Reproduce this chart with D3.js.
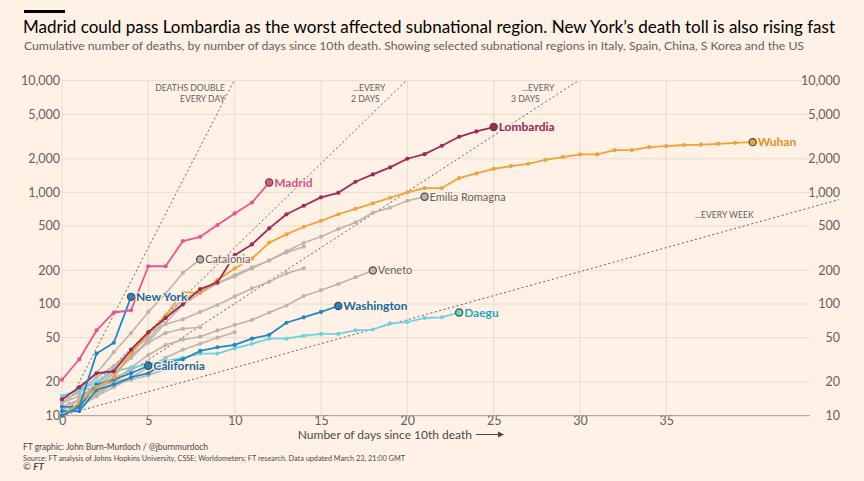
<!DOCTYPE html>
<html><head><meta charset="utf-8">
<script src="https://cdn.jsdelivr.net/npm/d3@7"></script>
<style>
html,body{margin:0;padding:0;background:#fff1e5;}
svg{display:block;font-family:Lato,"Noto Sans",sans-serif;}
</style></head>
<body><svg id="c" width="864" height="481"></svg>
<script>
// ---- data (cumulative deaths, index = days since 10th death) ----
const lombardia = [14,18,24,25,39,56,75,100,136,156,274,342,476,636,759,902,991,1245,1449,1674,2000,2200,2614,3147,3516,3846];
const wuhan = [10,13,18,22,36,54,79,128,126,164,208,255,355,420,492,556,637,713,796,895,1000,1093,1093,1343,1479,1626,1718,1803,1958,2072,2188,2188,2393,2393,2545,2600,2655,2672,2723,2780,2817];
const madrid = [21,32,58,84,88,218,218,366,400,509,648,810,1224];
const newYork = [10,12,36,45,116];
const california = [12,12,19,21,24,28];
const washington = [11,11,17,19,22,24,30,32,38,41,43,49,53,68,76,85,96];
const daegu = [15,17,20,25,27,29,31,33,36,36,40,44,49,49,52,54,54,58,59,67,69,75,76,84];
const catalonia = [13,17,24,37,55,85,124,190,251];
const emiliaRomagna = [10,13,18,24,33,48,75,112,128,153,182,213,245,297,353,400,470,538,657,730,841,913];
const veneto = [10,12,15,20,27,35,43,48,51,58,65,72,84,97,118,133,151,174,200];
const greyA = [11,14,18,24,33,46,68,98,125,153,176,209,246,290,326];
const greyB = [11,14,19,27,38,55,66,73,85,98,117,138,158,188,209];
const greyC = [10,12,15,18,22,27,33,39,44,50,56];
const greyD = [11,14,19,26,35,45,55,60,62];
const greyE = [12,14,17,21,26,30];
const greyF = [13,15,18,22,25];
const greyG = [10,13,16,19,21,23,26,28];
const greyH = [15,17,18,20,22];
const greyI = [14,16,22,28,38,50];

const yTicks = [10,20,50,100,200,500,1000,2000,5000,10000];
const xTicks = [0,5,10,15,20,25,30,35];
const doublingDays = [1,2,3,7];

const greySeries = [
  {name:"Catalonia", values:catalonia, label:true},
  {name:"Emilia Romagna", values:emiliaRomagna, label:true},
  {name:"Veneto", values:veneto, label:true},
  {name:"", values:greyA},{name:"", values:greyB},{name:"", values:greyC},
  {name:"", values:greyD},{name:"", values:greyE},{name:"", values:greyF},
  {name:"", values:greyG},{name:"", values:greyH},{name:"", values:greyI}
];
const colourSeries = [
  {name:"Daegu", values:daegu, color:"#6dd3e0", text:"#26a9bd"},
  {name:"Washington", values:washington, color:"#1f87c4", text:"#17699e"},
  {name:"California", values:california, color:"#1f87c4", text:"#17699e"},
  {name:"Wuhan", values:wuhan, color:"#eea23a", text:"#e0921c"},
  {name:"Lombardia", values:lombardia, color:"#a12a52", text:"#9a2450"},
  {name:"New York", values:newYork, color:"#1f87c4", text:"#17699e"},
  {name:"Madrid", values:madrid, color:"#e5588a", text:"#e04f83"}
];

const svg = d3.select("#c");
const x = d3.scaleLinear().domain([0,45]).range([62,839]);
const y = d3.scaleLog().domain([10,10000]).range([415.7,80.7]);
const gridRight = 810;
const muted = "#66605c";

// header
svg.append("rect").attr("x",24).attr("y",10).attr("width",41).attr("height",3).attr("fill","#000");
svg.append("text").attr("x",23).attr("y",33).attr("font-size",17.6).attr("fill","#000")
  .attr("textLength",812).attr("lengthAdjust","spacingAndGlyphs")
  .text("Madrid could pass Lombardia as the worst affected subnational region. New York’s death toll is also rising fast");
svg.append("text").attr("x",24).attr("y",50).attr("font-size",12.3).attr("fill",muted)
  .attr("textLength",780).attr("lengthAdjust","spacingAndGlyphs")
  .text("Cumulative number of deaths, by number of days since 10th death. Showing selected subnational regions in Italy, Spain, China, S Korea and the US");

// grid
const g = svg.append("g");
g.selectAll("line.h").data(yTicks.filter(d=>d>10)).join("line")
  .attr("x1",x(0)).attr("x2",gridRight).attr("y1",d=>y(d)).attr("y2",d=>y(d))
  .attr("stroke","#ebdccd").attr("stroke-width",1);
g.selectAll("line.v").data(xTicks).join("line")
  .attr("x1",d=>x(d)).attr("x2",d=>x(d)).attr("y1",y(10)).attr("y2",y(10000))
  .attr("stroke","#ebdccd").attr("stroke-width",1);

// axes labels
const fmt = d3.format(",");
g.selectAll("text.yl").data(yTicks).join("text")
  .attr("x",60).attr("y",d=>y(d)).attr("dy","0.35em").attr("text-anchor","end")
  .attr("font-size",12.5).attr("fill",muted).text(d=>fmt(d));
g.selectAll("text.yr").data(yTicks).join("text")
  .attr("x",840).attr("y",d=>y(d)).attr("dy","0.35em").attr("text-anchor","end")
  .attr("font-size",12.5).attr("fill",muted).text(d=>fmt(d));
const xAxis = d3.axisBottom(x).tickValues(xTicks).tickSize(0).tickPadding(0);
const xa = svg.append("g").attr("transform",`translate(0,${y(10)})`).call(xAxis);
xa.select(".domain").remove();
xa.selectAll("text").attr("font-size",12.5).attr("fill",muted).attr("font-family","Lato,sans-serif")
  .attr("dy","0.72em");
svg.append("line").attr("x1",x(0)).attr("x2",gridRight).attr("y1",y(10)).attr("y2",y(10))
  .attr("stroke","#a39c96").attr("stroke-width",1);

// doubling reference lines
const maxDay = 45;
doublingDays.forEach(dd=>{
  const endX = Math.min(maxDay, dd*Math.log2(1000));
  svg.append("line").attr("x1",x(0)).attr("y1",y(10)).attr("x2",x(endX)).attr("y2",y(10*Math.pow(2,endX/dd)))
    .attr("stroke","#66605c").attr("stroke-width",1).attr("stroke-dasharray","2,2.5");
});
const ann = [
  {t:"DEATHS DOUBLE", x:225, y:91, a:"end"},
  {t:"EVERY DAY", x:225, y:101.5, a:"end"},
  {t:"...EVERY", x:353, y:91, a:"start"},
  {t:"2 DAYS", x:351, y:101.5, a:"start"},
  {t:"...EVERY", x:522, y:91, a:"start"},
  {t:"3 DAYS", x:511, y:101.5, a:"start"},
  {t:"...EVERY WEEK", x:695, y:218, a:"start"}
];
svg.selectAll("text.ann").data(ann).join("text")
  .attr("x",d=>d.x).attr("y",d=>d.y).attr("text-anchor",d=>d.a)
  .attr("font-size",8.6).attr("fill",muted).text(d=>d.t);

// series
const line = d3.line().x((d,i)=>x(i)).y(d=>y(d));
function drawSeries(s, color, width){
  const gg = svg.append("g");
  gg.append("path").attr("d",line(s.values)).attr("fill","none")
    .attr("stroke",color).attr("stroke-width",width).attr("stroke-linejoin","round");
  gg.selectAll("circle").data(s.values.slice(0,-1)).join("circle")
    .attr("cx",(d,i)=>x(i)).attr("cy",d=>y(d)).attr("r",2.1).attr("fill",color);
  const n = s.values.length-1;
  gg.append("circle").attr("cx",x(n)).attr("cy",y(s.values[n])).attr("r",s.name?3.6:2.1)
    .attr("fill",color).attr("stroke",s.name?"#4d4845":"none").attr("stroke-width",1.2);
}
greySeries.forEach(s=>drawSeries(s,"#bdb5ad",1.6));
colourSeries.forEach(s=>drawSeries(s,s.color,1.8));
greySeries.filter(s=>s.label).forEach(s=>{
  const n=s.values.length-1;
  svg.append("text").attr("x",x(n)+5).attr("y",y(s.values[n])).attr("dy","0.35em")
    .attr("font-size",11).attr("fill",muted)
    .attr("stroke","#fff1e5").attr("stroke-width",2.5).attr("paint-order","stroke").text(s.name);
});
colourSeries.forEach(s=>{
  const n=s.values.length-1;
  svg.append("text").attr("x",x(n)+5).attr("y",y(s.values[n])).attr("dy","0.35em")
    .attr("font-size",12).attr("font-weight","bold").attr("fill",s.text)
    .attr("stroke","#fff1e5").attr("stroke-width",2.5).attr("paint-order","stroke").text(s.name);
});

// x title with arrow
svg.append("text").attr("x",472).attr("y",438.5).attr("text-anchor","end")
  .attr("font-size",12).attr("fill","#4d4845").text("Number of days since 10th death");
svg.append("line").attr("x1",476).attr("x2",500).attr("y1",434.5).attr("y2",434.5).attr("stroke","#4d4845").attr("stroke-width",1);
svg.append("path").attr("d","M498,431.5 L504,434.5 L498,437.5 Z").attr("fill","#4d4845");

// footer
svg.append("text").attr("x",23).attr("y",450).attr("font-size",10.2).attr("fill","#4d4845")
  .attr("textLength",185).attr("lengthAdjust","spacingAndGlyphs")
  .text("FT graphic: John Burn-Murdoch / @jburnmurdoch");
svg.append("text").attr("x",23).attr("y",460.5).attr("font-size",8.4).attr("fill","#4d4845")
  .attr("textLength",382).attr("lengthAdjust","spacingAndGlyphs")
  .text("Source: FT analysis of Johns Hopkins University, CSSE; Worldometers; FT research. Data updated March 23, 21:00 GMT");
const ft = svg.append("text").attr("x",23).attr("y",470).attr("font-size",9.5).attr("fill","#4d4845");
ft.append("tspan").text("© ");
ft.append("tspan").attr("font-style","italic").attr("font-weight","bold").text("FT");
</script></body></html>
